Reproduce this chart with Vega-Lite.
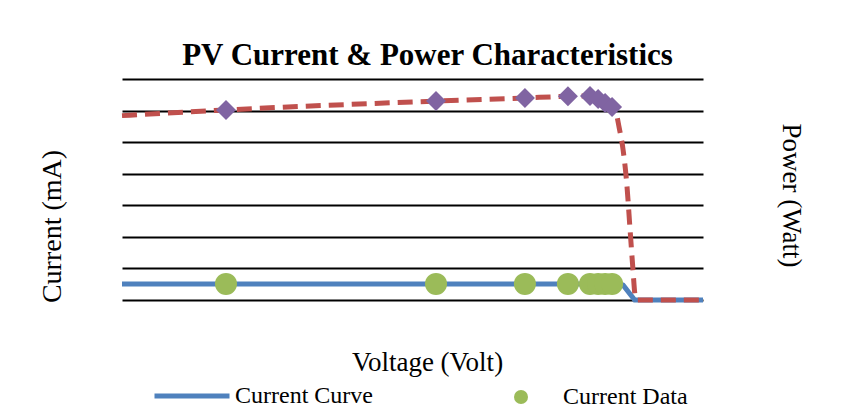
{
  "$schema": "https://vega.github.io/schema/vega-lite/v6.json",
  "width": 581,
  "height": 221,
  "autosize": {"type": "none"},
  "padding": {"left": 122, "top": 79, "right": 146, "bottom": 112},
  "background": "white",
  "config": {
    "font": "Liberation Serif",
    "view": {"stroke": null},
    "axis": {"titleFont": "Liberation Serif", "titleFontWeight": "normal", "titleColor": "black", "titleFontSize": 27},
    "legend": {"labelFont": "Liberation Serif", "labelFontSize": 24, "labelColor": "black"}
  },
  "title": {
    "text": "PV Current & Power Characteristics",
    "fontSize": 31,
    "fontWeight": "bold",
    "font": "Liberation Serif",
    "color": "black",
    "anchor": "middle",
    "dx": 15,
    "dy": 32,
    "offset": 15,
    "baseline": "alphabetic"
  },
  "datasets": {
    "currentCurve": [
      {"voltage": 0, "value": 0.51, "series": "Current Curve"},
      {"voltage": 17.15, "value": 0.51, "series": "Current Curve"},
      {"voltage": 17.25, "value": 0.47, "series": "Current Curve"},
      {"voltage": 17.65, "value": 0, "series": "Current Curve"},
      {"voltage": 20, "value": 0, "series": "Current Curve"}
    ],
    "powerCurve": [
      {"voltage": 0, "value": 5.84, "series": "Power Curve"},
      {"voltage": 3.58, "value": 6.02, "series": "Power Curve"},
      {"voltage": 10.81, "value": 6.3, "series": "Power Curve"},
      {"voltage": 13.87, "value": 6.4, "series": "Power Curve"},
      {"voltage": 15.35, "value": 6.45, "series": "Power Curve"},
      {"voltage": 16.11, "value": 6.46, "series": "Power Curve"},
      {"voltage": 16.39, "value": 6.37, "series": "Power Curve"},
      {"voltage": 16.63, "value": 6.24, "series": "Power Curve"},
      {"voltage": 16.87, "value": 6.11, "series": "Power Curve"},
      {"voltage": 17.01, "value": 5.92, "series": "Power Curve"},
      {"voltage": 17.11, "value": 5.48, "series": "Power Curve"},
      {"voltage": 17.25, "value": 4.75, "series": "Power Curve"},
      {"voltage": 17.38, "value": 3.64, "series": "Power Curve"},
      {"voltage": 17.49, "value": 2.22, "series": "Power Curve"},
      {"voltage": 17.59, "value": 0.95, "series": "Power Curve"},
      {"voltage": 17.66, "value": 0.16, "series": "Power Curve"},
      {"voltage": 17.73, "value": 0, "series": "Power Curve"},
      {"voltage": 20, "value": 0, "series": "Power Curve"}
    ],
    "currentData": [
      {"voltage": 3.58, "value": 0.51, "series": "Current Data"},
      {"voltage": 10.81, "value": 0.51, "series": "Current Data"},
      {"voltage": 13.87, "value": 0.51, "series": "Current Data"},
      {"voltage": 15.35, "value": 0.51, "series": "Current Data"},
      {"voltage": 16.11, "value": 0.51, "series": "Current Data"},
      {"voltage": 16.39, "value": 0.51, "series": "Current Data"},
      {"voltage": 16.63, "value": 0.51, "series": "Current Data"},
      {"voltage": 16.87, "value": 0.51, "series": "Current Data"}
    ],
    "powerData": [
      {"voltage": 3.58, "value": 6.02, "series": "Power Data"},
      {"voltage": 10.81, "value": 6.3, "series": "Power Data"},
      {"voltage": 13.87, "value": 6.4, "series": "Power Data"},
      {"voltage": 15.35, "value": 6.45, "series": "Power Data"},
      {"voltage": 16.11, "value": 6.46, "series": "Power Data"},
      {"voltage": 16.39, "value": 6.37, "series": "Power Data"},
      {"voltage": 16.63, "value": 6.24, "series": "Power Data"},
      {"voltage": 16.87, "value": 6.11, "series": "Power Data"}
    ]
  },
  "layer": [
    {
      "encoding": {
        "x": {"field": "voltage", "type": "quantitative", "scale": {"domain": [0, 20], "nice": false},
          "axis": {"title": "Voltage (Volt)", "grid": false, "domain": false, "ticks": false, "labels": false, "titleX": 305, "titleY": 62, "titleBaseline": "middle", "titleAnchor": "middle", "titleAlign": "center"}},
        "y": {"field": "value", "type": "quantitative", "scale": {"domain": [0, 7], "nice": false},
          "axis": {"title": "Current (mA)", "titleFontSize": 28, "orient": "left", "values": [0, 1, 2, 3, 4, 5, 6, 7], "grid": true, "gridColor": "black", "gridWidth": 2, "gridOpacity": 1, "domain": false, "ticks": false, "labels": false, "titleX": -70, "titleY": 147, "titleAngle": 270, "titleBaseline": "middle", "titleAlign": "center", "titleAnchor": "middle"}}
      },
      "layer": [
        {
          "data": {"name": "currentCurve"},
          "mark": {"type": "line", "strokeWidth": 5},
          "encoding": {
            "stroke": {"field": "series", "type": "nominal",
              "scale": {"domain": ["Current Curve", "Power Curve"], "range": ["#4f81bd", "#c0504d"]},
              "legend": {"title": null, "values": ["Current Curve"], "orient": "none", "legendX": 30, "legendY": 277, "symbolType": "stroke", "symbolSize": 5625, "symbolStrokeWidth": 5, "labelOffset": 3, "padding": 0, "labelBaseline": "middle"}}
          }
        },
        {
          "data": {"name": "currentData"},
          "mark": {"type": "point", "filled": true, "size": 484, "opacity": 1},
          "encoding": {
            "fill": {"field": "series", "type": "nominal",
              "scale": {"domain": ["Current Data", "Power Data"], "range": ["#9bbb59", "#8064a2"]},
              "legend": {"title": null, "values": ["Current Data"], "orient": "none", "legendX": 387, "legendY": 306, "symbolSize": 196, "labelOffset": 30, "padding": 0, "labelBaseline": "middle", "symbolOpacity": 1}},
            "shape": {"field": "series", "type": "nominal",
              "scale": {"domain": ["Current Data", "Power Data"], "range": ["circle", "diamond"]},
              "legend": {"title": null, "values": ["Current Data"], "orient": "none", "legendX": 387, "legendY": 306, "symbolSize": 196, "labelOffset": 30, "padding": 0, "labelBaseline": "middle", "symbolOpacity": 1}}
          }
        }
      ]
    },
    {
      "encoding": {
        "x": {"field": "voltage", "type": "quantitative", "scale": {"domain": [0, 20], "nice": false}},
        "y": {"field": "value", "type": "quantitative", "scale": {"domain": [0, 7], "nice": false},
          "axis": {"title": "Power (Watt)", "orient": "right", "grid": false, "domain": false, "ticks": false, "labels": false, "titleX": 87, "titleY": 116, "titleAngle": 90, "titleBaseline": "middle", "titleAlign": "center", "titleAnchor": "middle"}}
      },
      "layer": [
        {
          "data": {"name": "powerCurve"},
          "mark": {"type": "line", "strokeWidth": 5, "strokeDash": [15, 8], "interpolate": "monotone"},
          "encoding": {
            "stroke": {"field": "series", "type": "nominal"}
          }
        },
        {
          "data": {"name": "powerData"},
          "mark": {"type": "point", "filled": true, "size": 400, "opacity": 1},
          "encoding": {
            "fill": {"field": "series", "type": "nominal"},
            "shape": {"field": "series", "type": "nominal"}
          }
        }
      ]
    }
  ],
  "resolve": {"scale": {"y": "independent"}, "axis": {"y": "independent"}}
}
